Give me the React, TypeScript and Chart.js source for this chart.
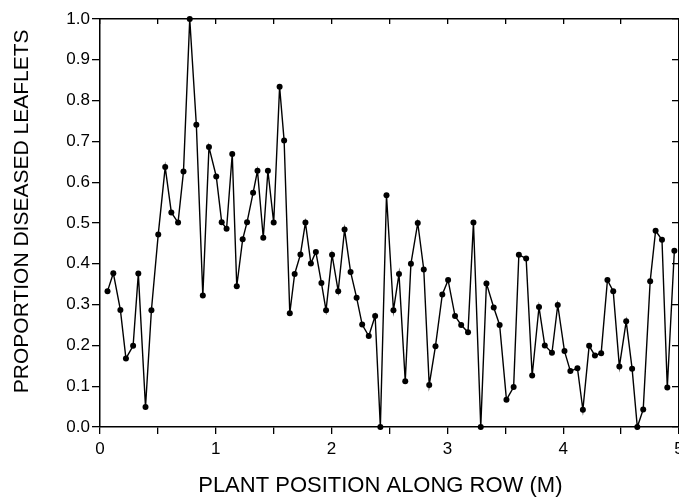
import React, { useEffect, useRef } from "react";
import { Chart, registerables } from "chart.js";

Chart.register(...registerables);

// Plant position along the row (m)
const positions = [
  0.065, 0.115, 0.176, 0.224, 0.286, 0.331, 0.393, 0.444, 0.503, 0.563,
  0.616, 0.674, 0.721, 0.775, 0.832, 0.888, 0.941, 1.004, 1.051, 1.093,
  1.142, 1.181, 1.232, 1.27, 1.322, 1.36, 1.41, 1.45, 1.5, 1.551,
  1.59, 1.639, 1.681, 1.731, 1.774, 1.821, 1.864, 1.912, 1.952, 2.004,
  2.057, 2.112, 2.164, 2.216, 2.264, 2.321, 2.376, 2.421, 2.474, 2.534,
  2.582, 2.636, 2.685, 2.744, 2.796, 2.843, 2.897, 2.956, 3.006, 3.066,
  3.119, 3.178, 3.225, 3.288, 3.337, 3.4, 3.451, 3.51, 3.572, 3.617,
  3.68, 3.732, 3.791, 3.841, 3.903, 3.953, 4.011, 4.062, 4.123, 4.17,
  4.224, 4.274, 4.328, 4.382, 4.432, 4.485, 4.544, 4.595, 4.64, 4.691,
  4.751, 4.798, 4.853, 4.899, 4.96,
];

// Proportion of diseased leaflets
const proportions = [
  0.333, 0.377, 0.287, 0.168, 0.199, 0.376, 0.049, 0.286, 0.472, 0.637,
  0.526, 0.501, 0.626, 1.0, 0.741, 0.322, 0.686, 0.614, 0.502, 0.486,
  0.669, 0.345, 0.46, 0.502, 0.574, 0.628, 0.464, 0.628, 0.501, 0.834,
  0.702, 0.279, 0.375, 0.423, 0.501, 0.401, 0.429, 0.353, 0.286, 0.422,
  0.333, 0.484, 0.38, 0.317, 0.251, 0.223, 0.272, 0.0, 0.568, 0.286,
  0.375, 0.112, 0.4, 0.5, 0.386, 0.103, 0.198, 0.325, 0.36, 0.272,
  0.25, 0.232, 0.501, 0.0, 0.352, 0.293, 0.25, 0.067, 0.098, 0.422,
  0.413, 0.126, 0.294, 0.2, 0.182, 0.299, 0.186, 0.137, 0.144, 0.042,
  0.199, 0.175, 0.181, 0.36, 0.333, 0.148, 0.259, 0.143, 0.0, 0.043,
  0.357, 0.481, 0.459, 0.097, 0.432,
];

// Titles (surrounding spaces nudge the centred text to the reference position)
const xTitle = "PLANT POSITION ALONG ROW (M)   ";
const yTitle = "    PROPORTION DISEASED LEAFLETS";

const FONT = "'Liberation Sans', Arial, Helvetica, sans-serif";

export default function App() {
  const ref = useRef<HTMLCanvasElement | null>(null);

  useEffect(() => {
    if (!ref.current) return;
    const data = positions.map((x, i) => ({ x, y: proportions[i] }));
    const chart = new Chart(ref.current, {
      type: "scatter",
      data: {
        datasets: [
          {
            data,
            showLine: true,
            borderColor: "#000",
            borderWidth: 1.4,
            backgroundColor: "#000",
            pointRadius: 3,
            pointBorderWidth: 0,
            pointBackgroundColor: "#000",
            tension: 0,
            clip: false as any,
          },
        ],
      },
      options: {
        animation: false,
        responsive: false,
        devicePixelRatio: 1,
        layout: { padding: { left: 0, right: 41, top: 0, bottom: 0 } },
        plugins: {
          legend: { display: false },
          tooltip: { enabled: false },
        },
        scales: {
          x: {
            type: "linear",
            position: "bottom",
            min: 0,
            max: 5,
            afterFit: (s: any) => {
              s.height = 73;
            },
            border: { display: true, color: "#000", width: 1.5 },
            grid: {
              display: true,
              drawOnChartArea: false,
              drawTicks: true,
              tickLength: 7,
              color: "#000",
              lineWidth: 1.3,
            },
            ticks: {
              stepSize: 0.5,
              color: "#000",
              padding: 5,
              maxRotation: 0,
              autoSkip: false,
              font: { family: FONT, size: 17 },
              callback: (v: any) =>
                Math.abs(v - Math.round(v)) < 1e-6 ? String(Math.round(v)) : "",
            },
            title: {
              display: true,
              text: xTitle,
              color: "#000",
              font: { family: FONT, size: 22 },
              padding: { top: 0, bottom: 1 },
            },
          },
          x2: {
            type: "linear",
            position: "top",
            min: 0,
            max: 5,
            afterFit: (s: any) => {
              s.height = 19;
            },
            border: { display: true, color: "#000", width: 1.5 },
            grid: {
              display: true,
              drawOnChartArea: false,
              drawTicks: true,
              tickLength: -5,
              color: "#000",
              lineWidth: 1.3,
            },
            ticks: { display: false, stepSize: 0.5 },
          },
          y: {
            type: "linear",
            position: "left",
            min: 0,
            max: 1,
            afterFit: (s: any) => {
              s.width = 100;
            },
            border: { display: true, color: "#000", width: 1.5 },
            grid: {
              display: true,
              drawOnChartArea: false,
              drawTicks: true,
              tickLength: 8,
              color: "#000",
              lineWidth: 1.3,
            },
            ticks: {
              stepSize: 0.1,
              color: "#000",
              padding: 2,
              autoSkip: false,
              font: { family: FONT, size: 17 },
              callback: (v: any) => Number(v).toFixed(1),
            },
            title: {
              display: true,
              text: yTitle,
              color: "#000",
              font: { family: FONT, size: 21 },
              padding: { top: 10, bottom: 0 },
            },
          },
          y2: {
            type: "linear",
            position: "right",
            min: 0,
            max: 1,
            afterFit: (s: any) => {
              s.width = 0;
            },
            border: { display: true, color: "#000", width: 1.5 },
            grid: {
              display: true,
              drawOnChartArea: false,
              drawTicks: true,
              tickLength: -7,
              color: "#000",
              lineWidth: 1.3,
            },
            ticks: { display: false, stepSize: 0.1 },
          },
        },
      },
    });
    return () => chart.destroy();
  }, []);

  return (
    <div
      style={{
        position: "fixed",
        left: 0,
        top: 0,
        width: 679,
        height: 500,
        overflow: "hidden",
        background: "#fff",
      }}
    >
      <canvas
        ref={ref}
        width={720}
        height={500}
        style={{ display: "block", width: 720, height: 500 }}
      />
    </div>
  );
}
